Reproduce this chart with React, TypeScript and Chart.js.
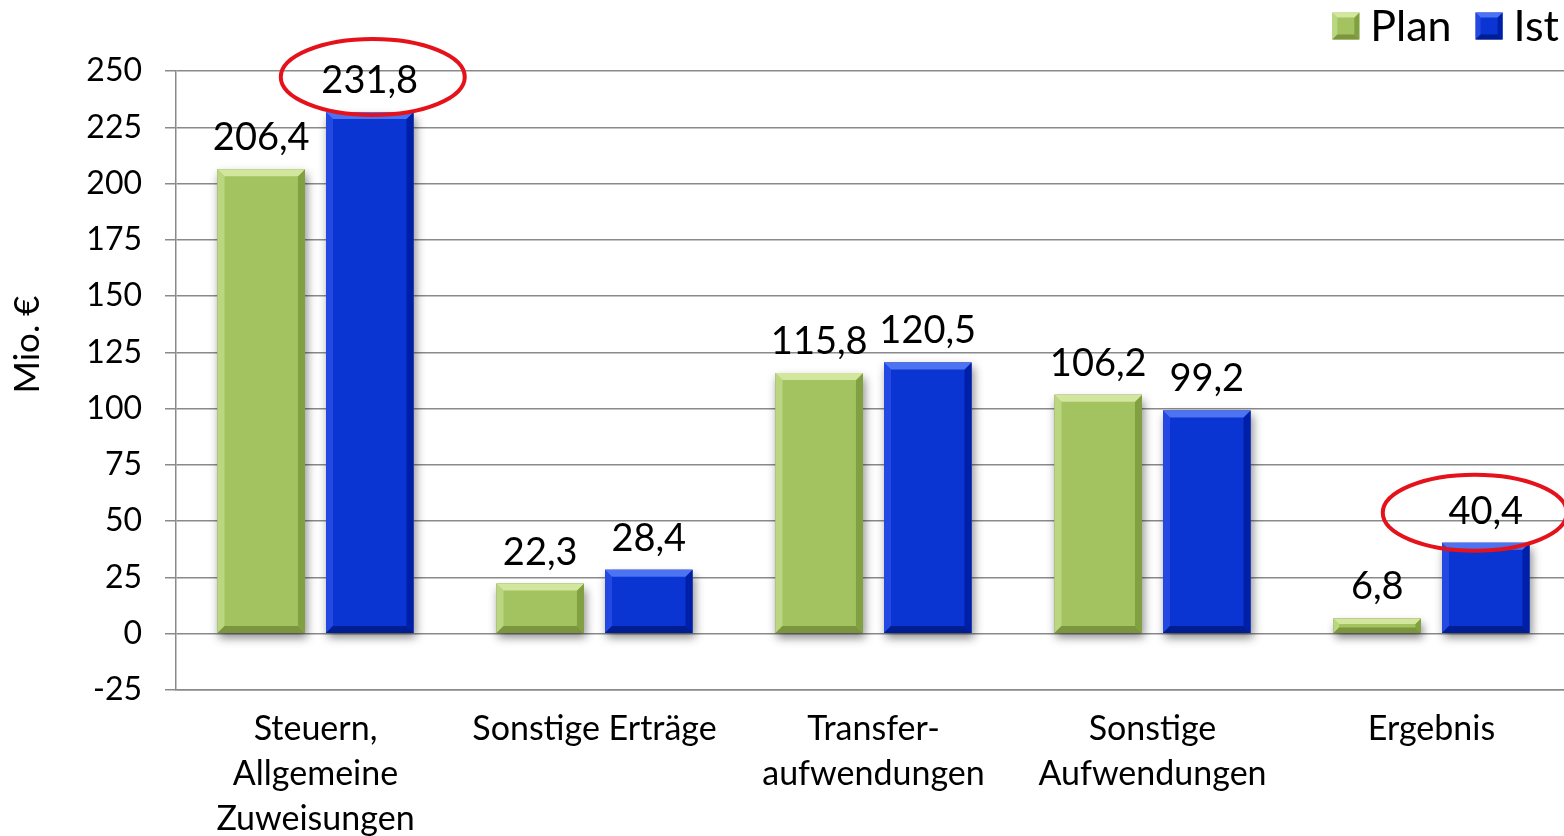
import React, { useEffect, useRef } from "react";
import { Chart, registerables } from "chart.js";

Chart.register(...registerables);

const CATEGORIES: (string | string[])[] = [
  ["Steuern,", "Allgemeine", "Zuweisungen"],
  "Sonstige Erträge",
  ["Transfer-", "aufwendungen"],
  ["Sonstige", "Aufwendungen"],
  "Ergebnis",
];
const SERIES_NAMES = ["Plan", "Ist"];
const PLAN = [206.4, 22.3, 115.8, 106.2, 6.8];
const IST = [231.8, 28.4, 120.5, 99.2, 40.4];
const Y_MIN = -25;
const Y_MAX = 250;
const Y_STEP = 25;
const Y_TITLE = "Mio. €";
const HIGHLIGHT_IST = [0, 4];

const FONT = 'Lato, "Open Sans", sans-serif';
const VIEW_W = 1564;
const CANVAS_W = 1571;

const PALETTE = [
  { face: "#a2c35f", top: "#d2e69e", left: "#bad680", right: "#80a042", bottom: "#7b963f" },
  { face: "#0a35d2", top: "#4d72f2", left: "#2448e2", right: "#001fa8", bottom: "#001d92" },
];

const fmt = (v: number) => v.toFixed(1).replace(".", ",");

const shadowPlugin = {
  id: "barShadow",
  beforeDatasetsDraw(chart: any) {
    const ctx = chart.ctx;
    ctx.save();
    chart.data.datasets.forEach((_: any, di: number) => {
      const meta = chart.getDatasetMeta(di);
      meta.data.forEach((bar: any) => {
        const l = bar.x - bar.width / 2;
        const t = Math.min(bar.y, bar.base);
        const h = Math.abs(bar.base - bar.y);
        ctx.shadowColor = "rgba(0,0,0,0.45)";
        ctx.shadowBlur = 9;
        ctx.shadowOffsetX = 2;
        ctx.shadowOffsetY = 5;
        ctx.fillStyle = "#777";
        ctx.fillRect(l, t, bar.width, h);
      });
    });
    ctx.restore();
  },
};

const bevelPlugin = {
  id: "bevel",
  afterDatasetsDraw(chart: any) {
    const ctx = chart.ctx;
    ctx.save();
    chart.data.datasets.forEach((_: any, di: number) => {
      const meta = chart.getDatasetMeta(di);
      const p = PALETTE[di];
      meta.data.forEach((bar: any) => {
        const l = bar.x - bar.width / 2;
        const r = bar.x + bar.width / 2;
        const t = Math.min(bar.y, bar.base);
        const bt = Math.max(bar.y, bar.base);
        const h = bt - t;
        const b = Math.min(7, h / 2.6);
        const poly = (pts: number[][], c: string) => {
          ctx.beginPath();
          ctx.moveTo(pts[0][0], pts[0][1]);
          for (let i = 1; i < pts.length; i++) ctx.lineTo(pts[i][0], pts[i][1]);
          ctx.closePath();
          ctx.fillStyle = c;
          ctx.fill();
        };
        poly([[l, t], [l + b, t + b], [l + b, bt - b], [l, bt]], p.left);
        poly([[r, t], [r - b, t + b], [r - b, bt - b], [r, bt]], p.right);
        poly([[l, bt], [l + b, bt - b], [r - b, bt - b], [r, bt]], p.bottom);
        poly([[l, t], [r, t], [r - b, t + b], [l + b, t + b]], p.top);
      });
    });
    ctx.restore();
  },
};

const labelPlugin = {
  id: "valueLabels",
  afterDatasetsDraw(chart: any) {
    const ctx = chart.ctx;
    ctx.save();
    ctx.font = `38px ${FONT}`;
    ctx.fillStyle = "#000";
    ctx.textAlign = "center";
    ctx.textBaseline = "alphabetic";
    chart.data.datasets.forEach((ds: any, di: number) => {
      const meta = chart.getDatasetMeta(di);
      meta.data.forEach((bar: any, i: number) => {
        const v = ds.data[i];
        ctx.fillText(fmt(v), bar.x, Math.min(bar.y, bar.base) - 19);
      });
    });
    // red highlight ellipses around selected "Ist" labels
    const meta = chart.getDatasetMeta(1);
    ctx.strokeStyle = "#e5121b";
    ctx.lineWidth = 4;
    HIGHLIGHT_IST.forEach((i) => {
      const bar: any = meta.data[i];
      const top = Math.min(bar.y, bar.base);
      const cy = i === 0 ? top - 35 : top - 30;
      const cx = bar.x + (i === 0 ? 3 : -11);
      ctx.beginPath();
      ctx.ellipse(cx, cy, 92, 38, 0, 0, Math.PI * 2);
      ctx.stroke();
    });
    ctx.restore();
  },
};

const yTitlePlugin = {
  id: "yTitle",
  afterDraw(chart: any) {
    const ctx = chart.ctx;
    const area = chart.chartArea;
    ctx.save();
    ctx.font = `35px ${FONT}`;
    ctx.fillStyle = "#000";
    ctx.textAlign = "center";
    ctx.textBaseline = "middle";
    ctx.translate(28, area.top + (area.bottom - area.top) * 0.442);
    ctx.rotate(-Math.PI / 2);
    ctx.fillText(Y_TITLE, 0, 0);
    ctx.restore();
  },
};

const legendPlugin = {
  id: "customLegend",
  afterDraw(chart: any) {
    const ctx = chart.ctx;
    ctx.save();
    ctx.font = `43px ${FONT}`;
    ctx.textBaseline = "middle";
    ctx.textAlign = "left";
    const box = 27;
    const gap = 11;
    const itemGap = 24;
    const widths = SERIES_NAMES.map((n) => ctx.measureText(n).width);
    const total = widths.reduce((a, w) => a + box + gap + w, 0) + itemGap * (SERIES_NAMES.length - 1);
    let x = VIEW_W - 5 - total;
    const cy = 26;
    SERIES_NAMES.forEach((n, i) => {
      const p = PALETTE[i];
      const l = x, t = cy - box / 2, r = x + box, bt = cy + box / 2, b = 5;
      ctx.fillStyle = p.face;
      ctx.fillRect(l, t, box, box);
      const poly = (pts: number[][], c: string) => {
        ctx.beginPath();
        ctx.moveTo(pts[0][0], pts[0][1]);
        for (let k = 1; k < pts.length; k++) ctx.lineTo(pts[k][0], pts[k][1]);
        ctx.closePath();
        ctx.fillStyle = c;
        ctx.fill();
      };
      poly([[l, t], [l + b, t + b], [l + b, bt - b], [l, bt]], p.left);
      poly([[r, t], [r - b, t + b], [r - b, bt - b], [r, bt]], p.right);
      poly([[l, bt], [l + b, bt - b], [r - b, bt - b], [r, bt]], p.bottom);
      poly([[l, t], [r, t], [r - b, t + b], [l + b, t + b]], p.top);
      ctx.fillStyle = "#000";
      ctx.fillText(n, x + box + gap, cy + 1);
      x += box + gap + widths[i] + itemGap;
    });
    ctx.restore();
  },
};

export default function App() {
  const ref = useRef<HTMLCanvasElement>(null);
  useEffect(() => {
    if (!ref.current) return;
    const chart = new Chart(ref.current, {
      type: "bar",
      data: {
        labels: CATEGORIES as any,
        datasets: [
          { label: SERIES_NAMES[0], data: PLAN, backgroundColor: PALETTE[0].face, borderWidth: 0 },
          { label: SERIES_NAMES[1], data: IST, backgroundColor: PALETTE[1].face, borderWidth: 0 },
        ],
      },
      options: {
        animation: false,
        responsive: false,
        events: [],
        layout: { padding: { top: 71, left: 0, right: 0, bottom: 0 } },
        datasets: { bar: { categoryPercentage: 0.778, barPercentage: 0.806 } },
        plugins: { legend: { display: false }, tooltip: { enabled: false }, title: { display: false } },
        scales: {
          x: {
            grid: { display: false, drawTicks: false },
            border: { display: true, color: "#8a8a8a", width: 1.5 },
            ticks: {
              color: "#000",
              font: { family: FONT, size: 34, lineHeight: 1.33 },
              padding: 16,
              maxRotation: 0,
              autoSkip: false,
            },
            afterFit(scale: any) {
              scale.height = 146;
            },
          },
          y: {
            min: Y_MIN,
            max: Y_MAX,
            ticks: {
              stepSize: Y_STEP,
              color: "#000",
              font: { family: FONT, size: 32 },
              padding: 23,
            },
            grid: { color: "#8a8a8a", lineWidth: 1.5, tickLength: 11 },
            border: { display: true, color: "#8a8a8a", width: 1.5 },
            afterFit(scale: any) {
              scale.width = 176;
            },
          },
        },
      },
      plugins: [shadowPlugin, bevelPlugin, labelPlugin, yTitlePlugin, legendPlugin],
    } as any);
    return () => chart.destroy();
  }, []);
  return (
    <div
      style={{
        position: "absolute",
        left: 0,
        top: 0,
        width: VIEW_W,
        height: 836,
        overflow: "hidden",
        background: "#fff",
      }}
    >
      <canvas ref={ref} width={CANVAS_W} height={836} style={{ display: "block" }} />
    </div>
  );
}
